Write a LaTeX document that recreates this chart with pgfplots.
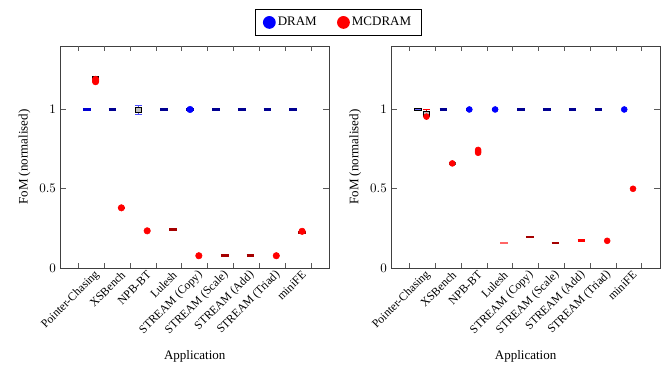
\documentclass[border=0pt]{standalone}
\usepackage{fontspec}
\setmainfont{Liberation Serif}
\usepackage{pgfplots}
\pgfplotsset{compat=1.18}
\definecolor{navyb}{RGB}{0,0,145}
\definecolor{dred}{RGB}{165,0,0}
% short horizontal segment: left x, right x, value, colour
\newcommand{\dashp}[4]{\addplot[forget plot, draw=#4, line width=1.9pt] coordinates {(#1,#3) (#2,#3)};}
% box: left x, right x, lower quartile, upper quartile
\newcommand{\boxp}[4]{\addplot[forget plot, draw=black, fill=gray!50, line width=0.8pt] coordinates {(#1,#3) (#2,#3) (#2,#4) (#1,#4)} -- cycle;}
% whisker: x, median, up, down, colour
\newcommand{\whisk}[5]{\addplot[forget plot, draw=none, mark=none, #5, error bars/.cd, y dir=both, y explicit, error bar style={line width=0.8pt, #5}, error mark options={rotate=90, mark size=3pt, line width=0.8pt, #5}] coordinates {(#1,#2) += (0,#3) -= (0,#4)};}
% category boundary marks on bottom and top edges
\newcommand{\edgeticks}{%
\addplot[forget plot, draw=none, mark=none, error bars/.cd, y dir=plus, y fixed=0.034, error mark=none, error bar style={black!65, line width=0.5pt}] coordinates {(0,0) (1,0) (2,0) (3,0) (4,0) (5,0) (6,0) (7,0) (8,0) (9,0)};
\addplot[forget plot, draw=none, mark=none, error bars/.cd, y dir=minus, y fixed=0.034, error mark=none, error bar style={black!65, line width=0.5pt}] coordinates {(0,1.4) (1,1.4) (2,1.4) (3,1.4) (4,1.4) (5,1.4) (6,1.4) (7,1.4) (8,1.4) (9,1.4)};}
\pgfplotsset{myax/.style={
  width=206.5pt, height=170.8pt, scale only axis,
  xmin=-0.7, xmax=9.7, ymin=0, ymax=1.4,
  xmajorticks=true, tick align=inside, tick pos=both,
  xtick={0,1,2,3,4,5,6,7,8,9},
  xticklabels={Pointer-Chasing, XSBench, NPB-BT, Lulesh, STREAM (Copy), STREAM (Scale), STREAM (Add), STREAM (Triad), miniFE, {}},
  major tick length=4.2pt,
  xtick style={draw=black!70, line width=0.5pt},
  ytick style={draw=black!65, line width=0.6pt},
  xticklabel style={rotate=45, anchor=east, font=\small, xshift=11pt, yshift=-13pt},
  ytick={0,0.5,1},
  axis line style={black!75},
  xlabel={Application}, ylabel={FoM (normalised)},
  xlabel style={yshift=-3pt},
}}
\begin{document}
\begin{tikzpicture}
\begin{axis}[myax, at={(0pt,0pt)}, anchor=south west,
  legend style={at={(1.036,1.045)}, anchor=south, legend columns=2, draw=black, line width=0.8pt, font=\normalsize, inner xsep=6pt, inner ysep=4pt, /tikz/every even column/.append style={column sep=14pt}}]
\addlegendimage{only marks, mark=*, blue, mark size=4.5pt}
\addlegendentry{DRAM}
\addlegendimage{only marks, mark=*, red, mark size=4.5pt}
\addlegendentry{MCDRAM}
\edgeticks
% DRAM
\dashp{0.17}{0.47}{1}{blue!60!navyb}
\dashp{1.17}{1.47}{1}{navyb}
\whisk{2.32}{1.0}{0.025}{0.033}{blue!70}
\boxp{2.19}{2.45}{0.978}{1.013}
\dashp{3.17}{3.47}{1}{navyb}
\dashp{4.17}{4.47}{1}{navyb}
\dashp{5.17}{5.47}{1}{navyb}
\dashp{6.17}{6.47}{1}{navyb}
\dashp{7.17}{7.47}{1}{navyb}
\dashp{8.17}{8.47}{1}{navyb}
\addplot[forget plot, only marks, mark=*, blue, mark size=2.5pt] coordinates {(4.32,1.0)};
% MCDRAM
\dashp{1.51}{1.81}{0.38}{dred}
\dashp{3.51}{3.81}{0.243}{dred}
\dashp{5.51}{5.81}{0.078}{dred}
\dashp{6.51}{6.81}{0.078}{dred}
\dashp{8.51}{8.81}{0.225}{dred}
\addplot[forget plot, only marks, mark=*, red, mark size=2.5pt] coordinates {
(0.66,1.175) (0.66,1.183) (0.66,1.19)
(1.66,0.38) (2.66,0.235) (4.66,0.078) (7.66,0.078) (8.66,0.232)};
\boxp{0.53}{0.79}{1.198}{1.21}
\end{axis}
\begin{axis}[myax, at={(254.5pt,0pt)}, anchor=south west]
\edgeticks
% DRAM
\addplot[forget plot, only marks, mark=*, blue, mark size=2.3pt] coordinates {(2.32,1.0)(3.32,1.0)(8.32,1.0)};
\addplot[forget plot, draw=black, fill=blue!60, line width=0.8pt] coordinates {(0.19,0.993) (0.45,0.993) (0.45,1.007) (0.19,1.007)} -- cycle;
\dashp{1.17}{1.47}{1}{navyb}
\dashp{2.2}{2.44}{1}{navyb}
\dashp{3.2}{3.44}{1}{navyb}
\dashp{4.17}{4.47}{1}{navyb}
\dashp{5.17}{5.47}{1}{navyb}
\dashp{6.17}{6.47}{1}{navyb}
\dashp{7.17}{7.47}{1}{navyb}
% MCDRAM
\addplot[forget plot, only marks, mark=*, red, mark size=2.3pt] coordinates {
(0.66,0.955) (1.66,0.66) (2.66,0.727) (2.66,0.737) (2.66,0.745) (7.66,0.172) (8.66,0.50)};
\whisk{0.66}{0.97}{0.027}{0.0}{red}
\boxp{0.53}{0.79}{0.955}{0.99}
\dashp{1.53}{1.79}{0.658}{black!70}
\dashp{3.51}{3.81}{0.157}{red!60}
\dashp{4.51}{4.81}{0.197}{dred}
\dashp{5.51}{5.81}{0.159}{dred}
\dashp{6.51}{6.81}{0.174}{red}
\end{axis}
\pgfresetboundingbox
\path[use as bounding box] (-46.5pt,-76.9pt) rectangle (466.5pt,206.2pt);
\end{tikzpicture}
\end{document}
